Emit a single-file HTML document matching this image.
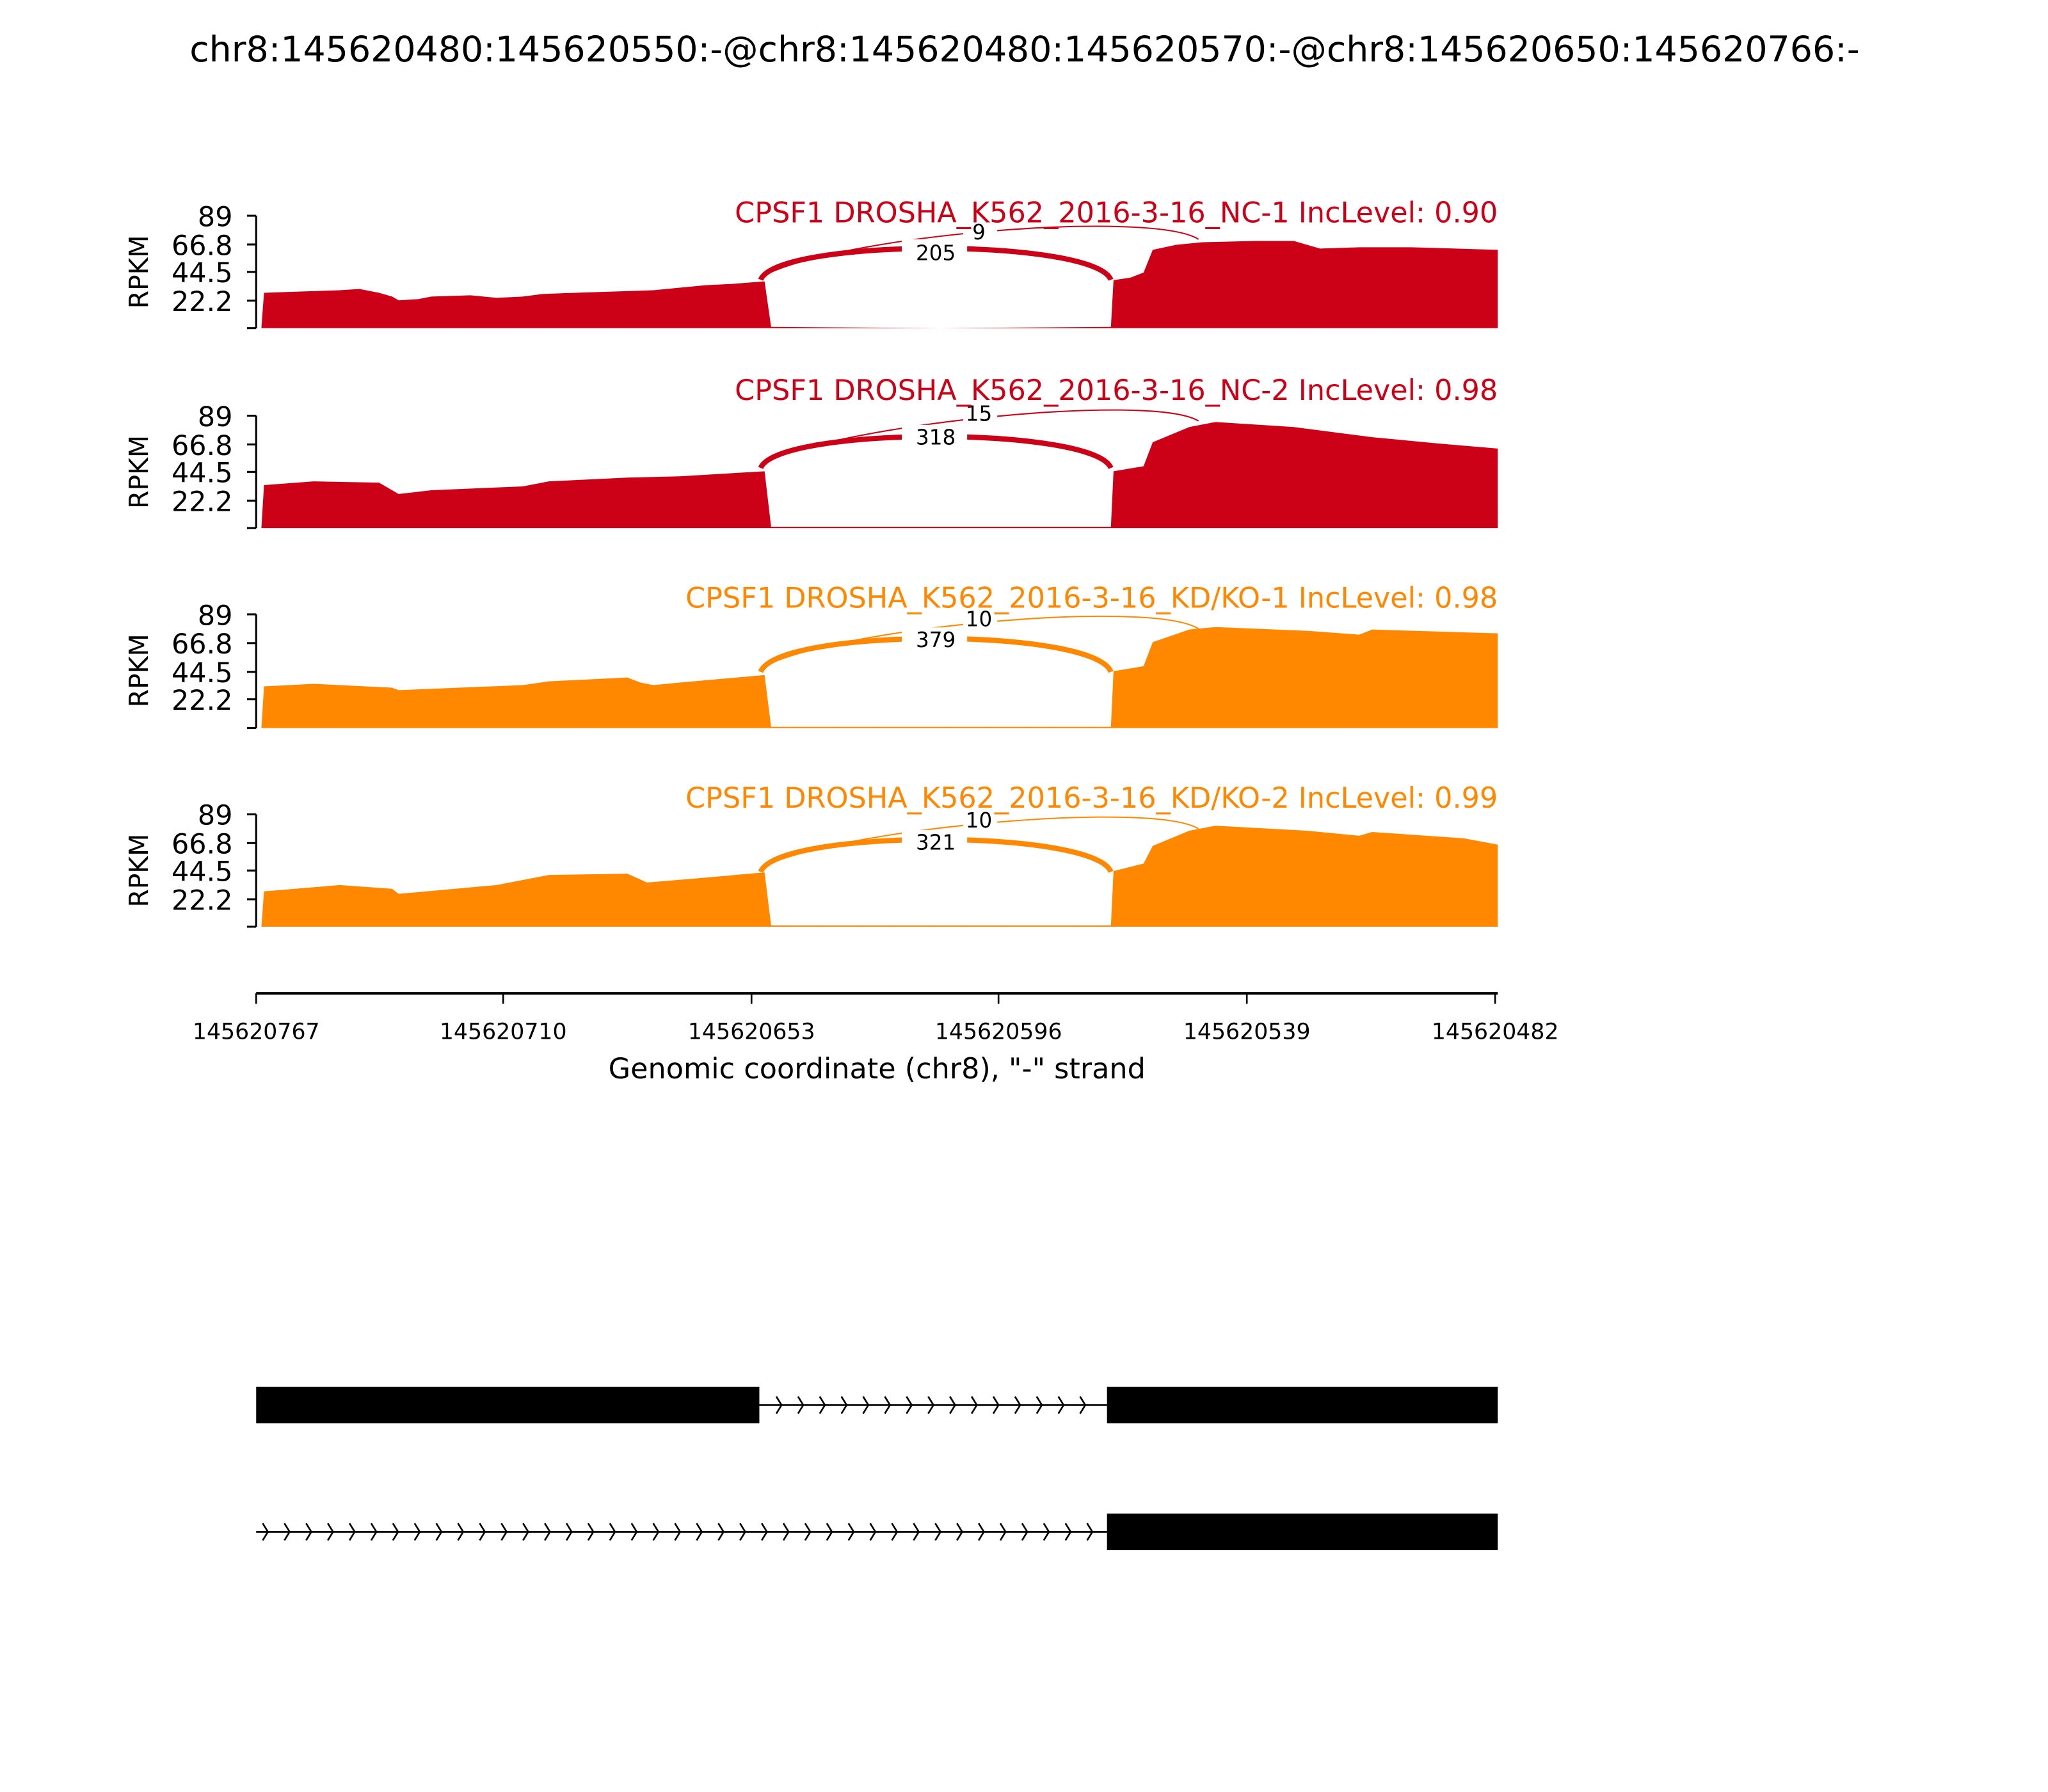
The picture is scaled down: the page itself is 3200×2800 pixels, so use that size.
<!DOCTYPE html>
<html><head><meta charset="utf-8"><style>html,body{margin:0;padding:0;background:#fff}svg{display:block}</style></head>
<body>
<svg xmlns="http://www.w3.org/2000/svg" width="3200" height="2800" viewBox="0 0 1567 1371" font-family="DejaVu Sans, Liberation Sans, sans-serif">
<rect width="1567" height="1371" fill="#fff"/>
<text x="784" y="47" font-size="27.1" text-anchor="middle">chr8:145620480:145620550:-@chr8:145620480:145620570:-@chr8:145620650:145620766:-</text>

<g font-size="21" text-anchor="end">
<g>
<line x1="196" y1="165" x2="196" y2="251" stroke="#000" stroke-width="1.5"/>
<g stroke="#000" stroke-width="1.5"><line x1="189" y1="165" x2="196" y2="165"/><line x1="189" y1="187" x2="196" y2="187"/><line x1="189" y1="208" x2="196" y2="208"/><line x1="189" y1="230" x2="196" y2="230"/><line x1="189" y1="251" x2="196" y2="251"/></g>
<text x="178" y="173">89</text><text x="178" y="195">66.8</text><text x="178" y="216">44.5</text><text x="178" y="238">22.2</text>
<text transform="translate(113,208) rotate(-90)" text-anchor="middle" font-size="20">RPKM</text>
</g>
<g>
<line x1="196" y1="318" x2="196" y2="404" stroke="#000" stroke-width="1.5"/>
<g stroke="#000" stroke-width="1.5"><line x1="189" y1="318" x2="196" y2="318"/><line x1="189" y1="340" x2="196" y2="340"/><line x1="189" y1="361" x2="196" y2="361"/><line x1="189" y1="383" x2="196" y2="383"/><line x1="189" y1="404" x2="196" y2="404"/></g>
<text x="178" y="326">89</text><text x="178" y="348">66.8</text><text x="178" y="369">44.5</text><text x="178" y="391">22.2</text>
<text transform="translate(113,361) rotate(-90)" text-anchor="middle" font-size="20">RPKM</text>
</g>
<g>
<line x1="196" y1="470" x2="196" y2="557" stroke="#000" stroke-width="1.5"/>
<g stroke="#000" stroke-width="1.5"><line x1="189" y1="470" x2="196" y2="470"/><line x1="189" y1="492" x2="196" y2="492"/><line x1="189" y1="514" x2="196" y2="514"/><line x1="189" y1="535" x2="196" y2="535"/><line x1="189" y1="557" x2="196" y2="557"/></g>
<text x="178" y="478">89</text><text x="178" y="500">66.8</text><text x="178" y="522">44.5</text><text x="178" y="543">22.2</text>
<text transform="translate(113,513) rotate(-90)" text-anchor="middle" font-size="20">RPKM</text>
</g>
<g>
<line x1="196" y1="623" x2="196" y2="709" stroke="#000" stroke-width="1.5"/>
<g stroke="#000" stroke-width="1.5"><line x1="189" y1="623" x2="196" y2="623"/><line x1="189" y1="645" x2="196" y2="645"/><line x1="189" y1="666" x2="196" y2="666"/><line x1="189" y1="688" x2="196" y2="688"/><line x1="189" y1="709" x2="196" y2="709"/></g>
<text x="178" y="631">89</text><text x="178" y="653">66.8</text><text x="178" y="674">44.5</text><text x="178" y="696">22.2</text>
<text transform="translate(113,666) rotate(-90)" text-anchor="middle" font-size="20">RPKM</text>
</g>
</g>

<g transform="translate(0,251) scale(1,-0.9663)" fill="#cc0016">
<path d="M200,0 L202,28 230,29 260,30 275,31 290,28 300,25 305,22 320,23 330,25 360,26 380,24 400,25 415,27 440,28 470,29 500,30 520,32 540,34 560,35 585,37 590,1 720,0 850,1 852,38 865,40 875,44 882,62 900,66 920,68 960,69 990,69 1000,66 1010,63 1040,64 1080,64 1146,62 1146,0 Z"/>
</g>
<g transform="translate(0,404) scale(1,-0.9663)" fill="#cc0016">
<path d="M200,0 L202,34 240,37 290,36 305,27 330,30 400,33 420,37 480,40 520,41 585,45 590,1 850,1 852,45 875,49 882,68 910,80 930,84 990,80 1050,72 1100,67 1146,63 1146,0 Z"/>
</g>
<g transform="translate(0,557) scale(1,-0.9663)" fill="#ff8800">
<path d="M200,0 L202,33 240,35 300,32 305,30 400,34 420,37 480,40 490,36 500,34 520,36 585,42 590,1 850,1 852,45 875,49 882,68 910,78 930,80 1000,77 1040,74 1050,78 1146,75 1146,0 Z"/>
</g>
<g transform="translate(0,709) scale(1,-0.9663)" fill="#ff8800">
<path d="M200,0 L202,28 260,33 300,30 305,26 380,33 420,41 480,42 495,35 530,38 585,43 590,1 850,1 852,44 875,50 882,64 910,76 930,80 1000,76 1040,72 1050,75 1120,70 1146,65 1146,0 Z"/>
</g>

<g fill="none">
<path d="M582,214 C595,182 837,182 850,214" stroke="#cc0016" stroke-width="4"/>
<path d="M582,212 C640,180 880,160 917,183" stroke="#cc0016" stroke-width="1"/>
<path d="M582,358 C595,326 837,326 850,358" stroke="#cc0016" stroke-width="4"/>
<path d="M582,355 C640,325 880,300 917,322" stroke="#cc0016" stroke-width="1"/>
<path d="M582,514 C595,480 837,480 850,514" stroke="#ff8800" stroke-width="4"/>
<path d="M582,511 C640,480 880,458 917,481" stroke="#ff8800" stroke-width="1"/>
<path d="M582,667 C595,634 837,634 850,667" stroke="#ff8800" stroke-width="4"/>
<path d="M582,664 C640,634 880,612 917,634" stroke="#ff8800" stroke-width="1"/>
</g>
<g font-size="16" text-anchor="middle">
<rect x="690" y="183" width="50" height="18" fill="#fff"/><text x="716" y="199">205</text>
<rect x="737" y="167" width="26" height="17" fill="#fff"/><text x="749" y="183">9</text>
<rect x="690" y="325" width="50" height="18" fill="#fff"/><text x="716" y="340">318</text>
<rect x="737" y="307" width="26" height="17" fill="#fff"/><text x="749" y="322">15</text>
<rect x="690" y="480" width="50" height="18" fill="#fff"/><text x="716" y="495">379</text>
<rect x="737" y="464" width="26" height="17" fill="#fff"/><text x="749" y="479">10</text>
<rect x="690" y="635" width="50" height="18" fill="#fff"/><text x="716" y="650">321</text>
<rect x="737" y="618" width="26" height="17" fill="#fff"/><text x="749" y="633">10</text>
</g>

<g font-size="21.8" text-anchor="end">
<text x="1146" y="170" fill="#cc0016">CPSF1 DROSHA_K562_2016-3-16_NC-1 IncLevel: 0.90</text>
<text x="1146" y="306" fill="#cc0016">CPSF1 DROSHA_K562_2016-3-16_NC-2 IncLevel: 0.98</text>
<text x="1146" y="465" fill="#ff8800">CPSF1 DROSHA_K562_2016-3-16_KD/KO-1 IncLevel: 0.98</text>
<text x="1146" y="618" fill="#ff8800">CPSF1 DROSHA_K562_2016-3-16_KD/KO-2 IncLevel: 0.99</text>
</g>

<line x1="196" y1="760" x2="1146" y2="760" stroke="#000" stroke-width="2"/>
<g stroke="#000" stroke-width="1.3">
<line x1="196" y1="760" x2="196" y2="768"/><line x1="385" y1="760" x2="385" y2="768"/><line x1="575" y1="760" x2="575" y2="768"/><line x1="764" y1="760" x2="764" y2="768"/><line x1="954" y1="760" x2="954" y2="768"/><line x1="1144" y1="760" x2="1144" y2="768"/>
</g>
<g font-size="17" text-anchor="middle">
<text x="196" y="795">145620767</text><text x="385" y="795">145620710</text><text x="575" y="795">145620653</text><text x="764" y="795">145620596</text><text x="954" y="795">145620539</text><text x="1144" y="795">145620482</text>
</g>
<text x="671" y="825" font-size="21.8" text-anchor="middle">Genomic coordinate (chr8), "-" strand</text>

<line x1="581" y1="1075" x2="847" y2="1075" stroke="#000" stroke-width="1.3"/>
<path fill="none" stroke="#000" stroke-width="1.3" d="M594,1068.5 L598,1075 L594,1081.5 M610.6,1068.5 L614.6,1075 L610.6,1081.5 M627.2,1068.5 L631.2,1075 L627.2,1081.5 M643.8,1068.5 L647.8,1075 L643.8,1081.5 M660.4,1068.5 L664.4,1075 L660.4,1081.5 M677,1068.5 L681,1075 L677,1081.5 M693.6,1068.5 L697.6,1075 L693.6,1081.5 M710.2,1068.5 L714.2,1075 L710.2,1081.5 M726.8,1068.5 L730.8,1075 L726.8,1081.5 M743.4,1068.5 L747.4,1075 L743.4,1081.5 M760,1068.5 L764,1075 L760,1081.5 M776.6,1068.5 L780.6,1075 L776.6,1081.5 M793.2,1068.5 L797.2,1075 L793.2,1081.5 M809.8,1068.5 L813.8,1075 L809.8,1081.5 M826.4,1068.5 L830.4,1075 L826.4,1081.5"/>
<rect x="196" y="1061" width="385" height="28" fill="#000"/>
<rect x="847" y="1061" width="299" height="28" fill="#000"/>

<line x1="196" y1="1172" x2="847" y2="1172" stroke="#000" stroke-width="1.3"/>
<path fill="none" stroke="#000" stroke-width="1.3" d="M201,1165.5 L205,1172 L201,1178.5 M217.6,1165.5 L221.6,1172 L217.6,1178.5 M234.2,1165.5 L238.2,1172 L234.2,1178.5 M250.8,1165.5 L254.8,1172 L250.8,1178.5 M267.4,1165.5 L271.4,1172 L267.4,1178.5 M284,1165.5 L288,1172 L284,1178.5 M300.6,1165.5 L304.6,1172 L300.6,1178.5 M317.2,1165.5 L321.2,1172 L317.2,1178.5 M333.8,1165.5 L337.8,1172 L333.8,1178.5 M350.4,1165.5 L354.4,1172 L350.4,1178.5 M367,1165.5 L371,1172 L367,1178.5 M383.6,1165.5 L387.6,1172 L383.6,1178.5 M400.2,1165.5 L404.2,1172 L400.2,1178.5 M416.8,1165.5 L420.8,1172 L416.8,1178.5 M433.4,1165.5 L437.4,1172 L433.4,1178.5 M450,1165.5 L454,1172 L450,1178.5 M466.6,1165.5 L470.6,1172 L466.6,1178.5 M483.2,1165.5 L487.2,1172 L483.2,1178.5 M499.8,1165.5 L503.8,1172 L499.8,1178.5 M516.4,1165.5 L520.4,1172 L516.4,1178.5 M533,1165.5 L537,1172 L533,1178.5 M549.6,1165.5 L553.6,1172 L549.6,1178.5 M566.2,1165.5 L570.2,1172 L566.2,1178.5 M582.8,1165.5 L586.8,1172 L582.8,1178.5 M599.4,1165.5 L603.4,1172 L599.4,1178.5 M616,1165.5 L620,1172 L616,1178.5 M632.6,1165.5 L636.6,1172 L632.6,1178.5 M649.2,1165.5 L653.2,1172 L649.2,1178.5 M665.8,1165.5 L669.8,1172 L665.8,1178.5 M682.4,1165.5 L686.4,1172 L682.4,1178.5 M699,1165.5 L703,1172 L699,1178.5 M715.6,1165.5 L719.6,1172 L715.6,1178.5 M732.2,1165.5 L736.2,1172 L732.2,1178.5 M748.8,1165.5 L752.8,1172 L748.8,1178.5 M765.4,1165.5 L769.4,1172 L765.4,1178.5 M782,1165.5 L786,1172 L782,1178.5 M798.6,1165.5 L802.6,1172 L798.6,1178.5 M815.2,1165.5 L819.2,1172 L815.2,1178.5 M831.8,1165.5 L835.8,1172 L831.8,1178.5"/>
<rect x="847" y="1158" width="299" height="28" fill="#000"/>
</svg>
</body></html>
